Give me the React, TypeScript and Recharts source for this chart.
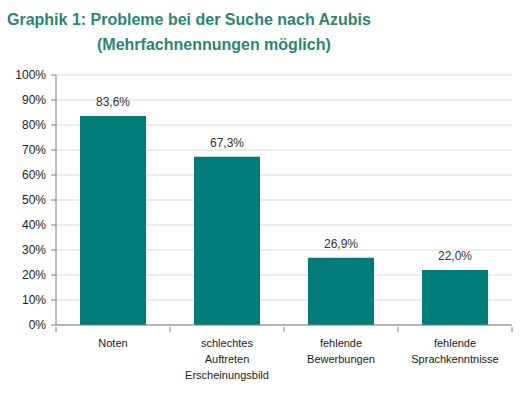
import React from "react";
import {
  BarChart,
  Bar,
  XAxis,
  YAxis,
  CartesianGrid,
  LabelList,
} from "recharts";

const categories = [
  ["Noten"],
  ["schlechtes", "Auftreten", "Erscheinungsbild"],
  ["fehlende", "Bewerbungen"],
  ["fehlende", "Sprachkenntnisse"],
];
const values = [83.6, 67.3, 26.9, 22.0];
const yTicks = [0, 10, 20, 30, 40, 50, 60, 70, 80, 90, 100];

const data = categories.map((lines, i) => ({
  name: lines.join(" "),
  lines,
  value: values[i],
}));

const FONT = "'Liberation Sans', Arial, sans-serif";
const TEAL = "#007d7a";
const AXIS = "#7f7f7f";

// x-axis tick: label lines centered, tick marks at the category boundaries
function CategoryTick(props: any) {
  const { x, y, payload, index } = props;
  const half = payload.offset ?? 0;
  const lines = data[index]?.lines ?? [payload.value];
  return (
    <g>
      <line x1={x - half} x2={x - half} y1={y - 8} y2={y - 3} stroke={AXIS} />
      {index === data.length - 1 && (
        <line x1={x + half} x2={x + half} y1={y - 8} y2={y - 3} stroke={AXIS} />
      )}
      <text
        x={x}
        y={y}
        textAnchor="middle"
        fill="#222"
        fontSize={11}
        fontFamily={FONT}
      >
        {lines.map((l: string, k: number) => (
          <tspan key={k} x={x} dy={k === 0 ? 12 : 16}>
            {l}
          </tspan>
        ))}
      </text>
    </g>
  );
}

export default function App() {
  return (
    <div
      style={{
        position: "absolute",
        left: 0,
        top: 0,
        width: 527,
        height: 400,
        background: "#fff",
        fontFamily: FONT,
      }}
    >
      <div
        style={{
          position: "absolute",
          left: 7,
          top: 11,
          fontSize: 16,
          fontWeight: "bold",
          color: "#2a8577",
          whiteSpace: "nowrap",
        }}
      >
        Graphik 1: Probleme bei der Suche nach Azubis
      </div>
      <div
        style={{
          position: "absolute",
          left: 97,
          top: 36,
          fontSize: 16,
          fontWeight: "bold",
          color: "#2a8577",
          whiteSpace: "nowrap",
        }}
      >
        (Mehrfachnennungen möglich)
      </div>
      <BarChart
        width={527}
        height={400}
        data={data}
        margin={{ top: 75, right: 15, bottom: 14, left: 0 }}
        barSize={66}
      >
        <CartesianGrid vertical={false} stroke="#d9d9d9" />
        <XAxis
          dataKey="name"
          axisLine={{ stroke: AXIS }}
          tickLine={false}
          tick={<CategoryTick />}
          interval={0}
          height={61}
          tickMargin={4}
        />
        <YAxis
          domain={[0, 100]}
          ticks={yTicks}
          interval={0}
          width={56}
          axisLine={{ stroke: AXIS }}
          tickLine={{ stroke: AXIS }}
          tickSize={5}
          tickMargin={5}
          tickFormatter={(v) => `${v}%`}
          tick={{ fontSize: 12, fill: "#222", fontFamily: FONT }}
        />
        <Bar dataKey="value" fill={TEAL} isAnimationActive={false}>
          <LabelList
            dataKey="value"
            position="top"
            offset={10}
            formatter={(v: any) => `${Number(v).toFixed(1).replace(".", ",")}%`}
            style={{ fontSize: 12, fill: "#333", fontFamily: FONT }}
          />
        </Bar>
      </BarChart>
    </div>
  );
}
